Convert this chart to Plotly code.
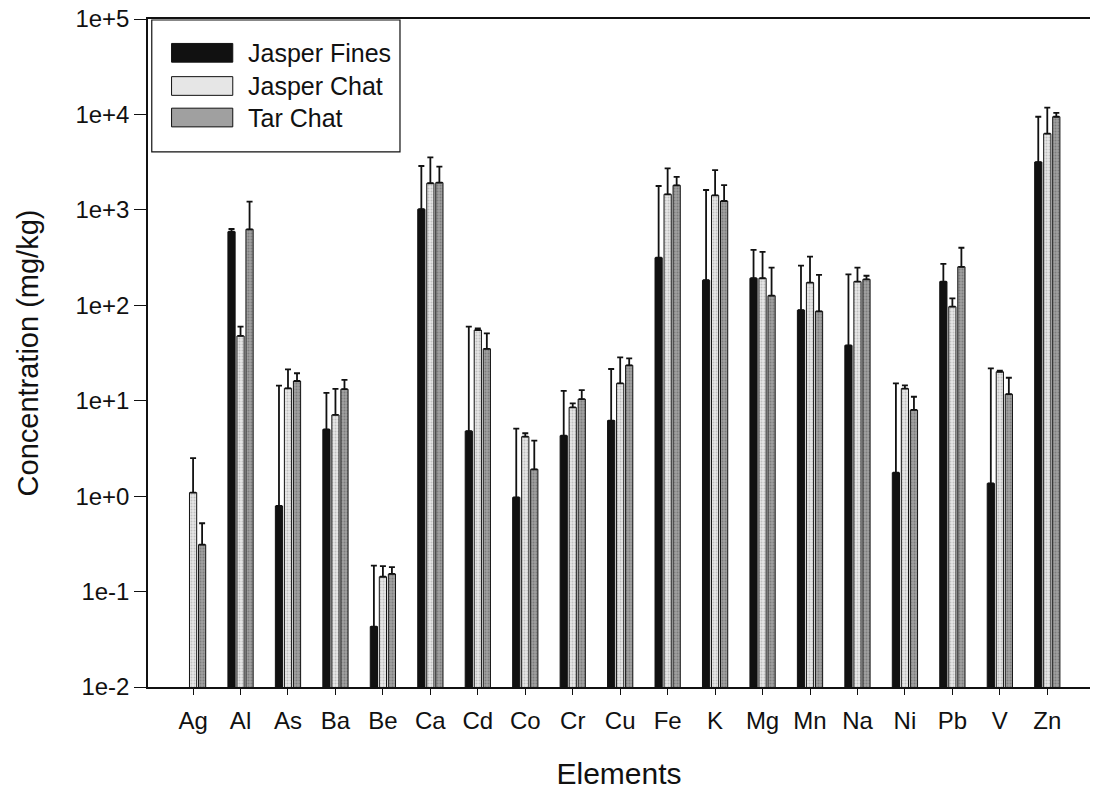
import plotly.graph_objects as go

# Elements analysed
elements = ["Ag", "Al", "As", "Ba", "Be", "Ca", "Cd", "Co", "Cr", "Cu",
            "Fe", "K", "Mg", "Mn", "Na", "Ni", "Pb", "V", "Zn"]

# Mean concentrations (mg/kg)
jasper_fines = [None, 590, 0.79, 5.0, 0.043, 1015, 4.8, 0.97, 4.3, 6.2,
                315, 183, 192, 89, 38, 1.76, 177, 1.36, 3170]
jasper_chat = [1.09, 47.7, 13.5, 7.1, 0.143, 1900, 55, 4.2, 8.5, 15.2,
               1456, 1420, 192, 173, 177, 13.4, 96.6, 20.1, 6280]
tar_chat = [0.31, 625, 16.1, 13.2, 0.153, 1930, 35, 1.91, 10.4, 23.5,
            1807, 1239, 126, 86.5, 187, 8.0, 253, 11.7, 9460]

# Upper end of the error bars (mg/kg)
jasper_fines_hi = [None, 630, 14.4, 12.1, 0.187, 2880, 59.7, 5.1, 12.7, 21.5,
                   1778, 1614, 380, 260, 211, 15.2, 271, 21.8, 9460]
jasper_chat_hi = [2.5, 59.7, 21.3, 13.3, 0.185, 3555, 57.3, 4.56, 9.4, 28.5,
                  2724, 2614, 362, 323, 248, 14.5, 118, 20.6, 11770]
tar_chat_hi = [0.52, 1219, 19.4, 16.5, 0.18, 2833, 50.8, 3.82, 12.9, 27.8,
               2221, 1820, 248, 208, 204, 11.0, 401, 17.4, 10380]

series = [
    ("Jasper Fines", jasper_fines, jasper_fines_hi, "#111111", None),
    ("Jasper Chat", jasper_chat, jasper_chat_hi, "#e6e6e6", "#9a9a9a"),
    ("Tar Chat", tar_chat, tar_chat_hi, "#a0a0a0", "#5a5a5a"),
]

ytick_vals = [1e-2, 1e-1, 1e0, 1e1, 1e2, 1e3, 1e4, 1e5]
ytick_text = ["1e-2", "1e-1", "1e+0", "1e+1", "1e+2", "1e+3", "1e+4", "1e+5"]


def bar_marker(fill, dots):
    marker = dict(color=fill, line=dict(color="#111111", width=1))
    if dots:
        marker["pattern"] = dict(shape=".", fgcolor=dots, bgcolor=fill,
                                 size=3, solidity=0.35)
    return marker


fig = go.Figure()
for name, vals, hi, fill, dots in series:
    plus = [None if v is None else h - v for v, h in zip(vals, hi)]
    fig.add_trace(go.Bar(
        name=name, x=elements, y=vals, marker=bar_marker(fill, dots),
        error_y=dict(type="data", array=plus, arrayminus=[0] * len(plus),
                     symmetric=False, color="#111111", thickness=1.8, width=3),
        showlegend=False,
    ))

# Boxed legend with wide swatches, upper left of the plot
fig.add_shape(type="rect", xref="paper", yref="paper",
              x0=0.004, x1=0.2675, y0=0.801, y1=0.9985,
              line=dict(color="#111111", width=1.2), fillcolor="white", layer="above")
row_y = [0.9494, 0.8997, 0.8525]
for (name, _, _, fill, dots), ry in zip(series, row_y):
    fig.add_shape(type="rect", xref="paper", yref="paper",
                  x0=0.025, x1=0.090, y0=ry - 0.014, y1=ry + 0.014,
                  line=dict(color="#111111", width=1), fillcolor=fill, layer="above")
    fig.add_annotation(x=0.104, y=ry, xref="paper", yref="paper", text=name,
                       showarrow=False, xanchor="left", yanchor="middle",
                       font=dict(size=25, color="#111111"))

fig.update_layout(
    width=1100, height=793,
    margin=dict(l=148, r=10, t=19, b=106),
    paper_bgcolor="white", plot_bgcolor="white",
    font=dict(family="Liberation Sans, Arial, sans-serif", color="#111111"),
    barmode="group", bargap=0.43, bargroupgap=0.2,
    xaxis=dict(
        range=[-0.95, 18.9], showline=True, linecolor="#111111", linewidth=1.5,
        mirror=True, ticks="outside", ticklen=6, tickcolor="#111111",
        tickfont=dict(size=24), showgrid=False, automargin=False,
        ticklabelstandoff=5,
        title=dict(text="Elements", font=dict(size=30), standoff=30),
    ),
    yaxis=dict(
        type="log", range=[-2, 5], showline=True, linecolor="#111111", linewidth=1.5,
        ticks="outside", ticklen=12, tickcolor="#111111",
        tickvals=ytick_vals, ticktext=ytick_text, tickfont=dict(size=24),
        showgrid=False, zeroline=False, automargin=False,
        title=dict(text="Concentration (mg/kg)", font=dict(size=29), standoff=28),
    ),
)

fig.write_html("out.html")
